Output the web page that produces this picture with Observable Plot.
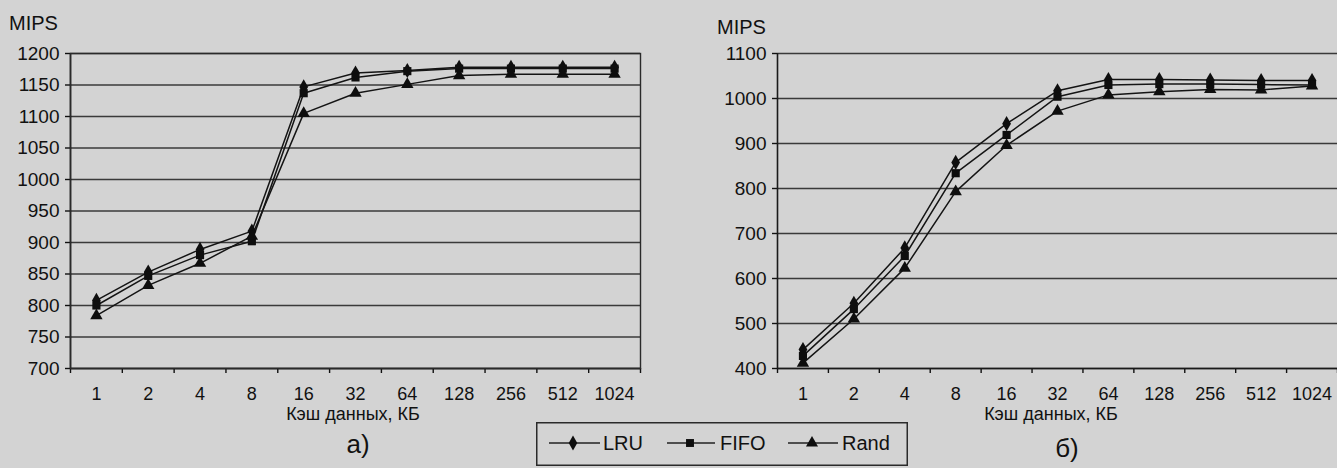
<!DOCTYPE html>
<html><head><meta charset="utf-8">
<script src="https://cdn.jsdelivr.net/npm/d3@7"></script>
<script src="https://cdn.jsdelivr.net/npm/@observablehq/plot@0.6"></script>
<style>
html,body{margin:0;padding:0;width:1337px;height:468px;overflow:hidden;background:#d3d3d3;font-family:"Liberation Sans",Arial,sans-serif;color:#111;}
#root{position:relative;width:1337px;height:468px;overflow:hidden;}
.abs{position:absolute;line-height:1;white-space:nowrap;}
</style></head><body>
<div id="root"></div>
<script>
// ---- data ----
const cacheKB = ["1","2","4","8","16","32","64","128","256","512","1024"];
const seriesNames = ["LRU","FIFO","Rand"];
const seriesSymbols = ["diamond","square","triangle"];

// chart а)
const lruA  = [808, 853, 889, 918, 1147, 1169, 1173, 1178, 1178, 1178, 1178];
const fifoA = [800, 847, 880, 902, 1137, 1162, 1172, 1176, 1176, 1176, 1176];
const randA = [784, 832, 867, 910, 1105, 1137, 1151, 1165, 1167, 1167, 1167];
const yTicksA = [700, 750, 800, 850, 900, 950, 1000, 1050, 1100, 1150, 1200];

// chart б)
const lruB  = [442, 545, 668, 858, 944, 1017, 1042, 1042, 1041, 1040, 1040];
const fifoB = [428, 532, 650, 834, 919, 1004, 1030, 1032, 1032, 1031, 1030];
const randB = [412, 510, 623, 793, 896, 972, 1008, 1015, 1020, 1019, 1028];
const yTicksB = [400, 500, 600, 700, 800, 900, 1000, 1100];

const yLabel = "MIPS";
const xLabel = "Кэш данных, КБ";
const panelLabels = ["а)", "б)"];

const ink = "#111";

function chart(seriesValues, yTicks, width, marginLeft, marginRight, withFrame) {
  const data = seriesValues.flatMap((vals, s) =>
    vals.map((v, i) => ({i, v, name: seriesNames[s]})));
  const n = cacheKB.length;
  const y0 = yTicks[0], y1 = yTicks[yTicks.length - 1];
  return Plot.plot({
    width, height: 468,
    marginLeft, marginRight, marginTop: 53, marginBottom: 100,
    style: {background: "transparent", fontFamily: "Liberation Sans, Arial, sans-serif", fontSize: "19px", color: ink},
    x: {type: "linear", domain: [-0.5, n - 0.5]},
    y: {domain: [y0, y1]},
    symbol: {domain: seriesNames, range: seriesSymbols},
    marks: [
      Plot.gridY(yTicks, {stroke: "#1e1e1e", strokeOpacity: 0.85, strokeWidth: 1.4}),
      Plot.axisY({ticks: yTicks, tickFormat: d => String(d), tickSize: 5, tickPadding: 6, label: null, strokeWidth: 1.4}),
      Plot.axisX({ticks: d3.range(-0.5, n, 1), tickFormat: () => "", tickSize: 5, label: null, strokeWidth: 1.4}),
      Plot.axisX({ticks: d3.range(n), tickFormat: i => cacheKB[i], tickSize: 0, tickPadding: 19, fontSize: 18, label: null}),
      Plot.ruleX([-0.5], {stroke: "#1a1a1a", strokeWidth: 1.6}),
      Plot.ruleY([y0], {stroke: "#1a1a1a", strokeWidth: 1.6}),
      withFrame ? Plot.frame({stroke: "#2a2a2a", strokeWidth: 1.4}) : null,
      Plot.line(data, {x: "i", y: "v", z: "name", stroke: "#141414", strokeWidth: 1.5}),
      Plot.dot(data, {x: "i", y: "v", symbol: "name", fill: "#0e0e0e", stroke: "none", r: 4.6})
    ]
  });
}

const root = document.getElementById("root");
function place(el, left, top) {
  el.style.position = "absolute"; el.style.left = left + "px"; el.style.top = top + "px";
  root.appendChild(el);
}
function label(text, left, top, size, center) {
  const d = document.createElement("div");
  d.className = "abs"; d.textContent = text; d.style.fontSize = size + "px";
  if (center) { d.style.transform = "translateX(-50%)"; }
  place(d, left, top);
}

place(chart([lruA, fifoA, randA], yTicksA, 660, 70, 20, true), 0, 0);
place(chart([lruB, fifoB, randB], yTicksB, 677, 97, 20, false), 680, 0);

label(yLabel, 9, 13, 20, false);
label(yLabel, 717, 17, 20, false);
label(xLabel, 353, 405, 18, true);
label(xLabel, 1051, 405, 18, true);
label(panelLabels[0], 358, 431, 26, true);
label(panelLabels[1], 1067, 435, 26, true);

// legend
const lw = 372, lh = 44;
const leg = d3.create("svg").attr("width", lw).attr("height", lh)
  .style("overflow", "visible");
leg.append("rect").attr("x", 0.75).attr("y", 0.75).attr("width", lw - 1.5).attr("height", lh - 1.5)
  .attr("fill", "none").attr("stroke", "#2a2a2a").attr("stroke-width", 1.5);
const items = [
  {x0: 13, x1: 64, sx: 37, tx: 67},
  {x0: 131, x1: 179, sx: 154, tx: 184},
  {x0: 252, x1: 302, sx: 276, tx: 306}
];
const d3sym = {diamond: d3.symbolDiamond, square: d3.symbolSquare, triangle: d3.symbolTriangle};
items.forEach((it, k) => {
  const cy = 21;
  leg.append("line").attr("x1", it.x0).attr("x2", it.x1).attr("y1", cy).attr("y2", cy)
    .attr("stroke", "#222").attr("stroke-width", 1.5);
  leg.append("path").attr("transform", `translate(${it.sx},${cy})`)
    .attr("d", d3.symbol(d3sym[seriesSymbols[k]], Math.PI * 20)())
    .attr("fill", "#0e0e0e");
  leg.append("text").attr("x", it.tx).attr("y", cy).attr("dy", "0.35em")
    .attr("font-size", 20).attr("fill", ink)
    .attr("font-family", "Liberation Sans, Arial, sans-serif").text(seriesNames[k]);
});
place(leg.node(), 536, 422);
</script>
</body></html>
